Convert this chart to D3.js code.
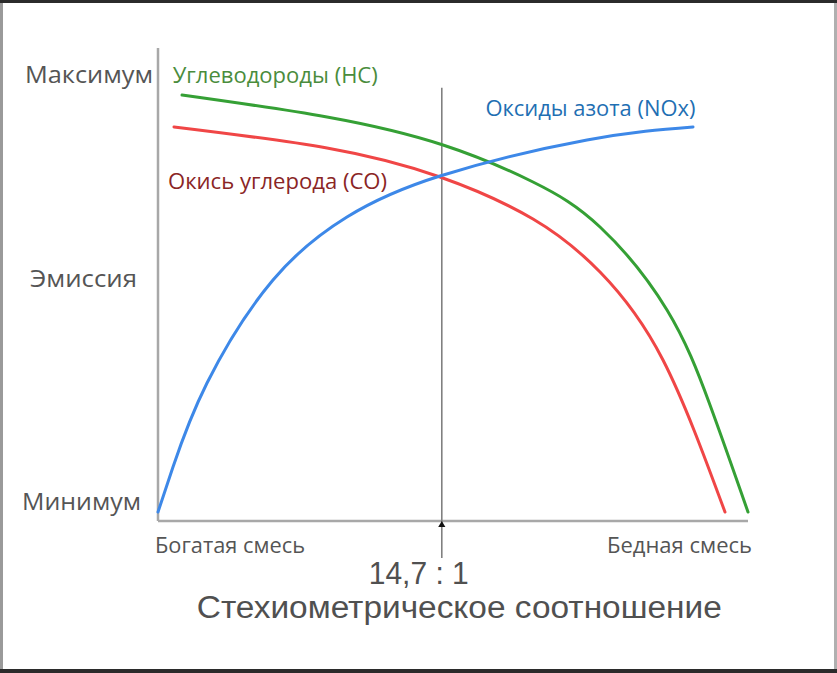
<!DOCTYPE html>
<html>
<head>
<meta charset="utf-8">
<script src="https://cdn.jsdelivr.net/npm/d3@7"></script>
<style>
  html, body { margin: 0; padding: 0; background: #222; }
  svg { display: block; font-family: "Open Sans", "Noto Sans", sans-serif; }
</style>
</head>
<body>
<svg id="chart"></svg>
<script>
// mixture axis: 0 = rich, 100 = lean; emission: 0 = min, 100 = max
const hcX  = [4.07, 28.64, 48.31, 63.56, 74.92, 86.27, 93.56, 100];
const hcY  = [95.09, 90.18, 83.93, 75.67, 65.63, 47.10, 25.89, 2.01];
const coX  = [2.71, 28.64, 47.80, 63.56, 74.92, 85.59, 96.10];
const coY  = [87.95, 83.26, 76.79, 67.41, 55.58, 35.94, 2.01];
const noxX = [0, 2.54, 8.31, 19.49, 32.03, 47.80, 72.71, 90.68];
const noxY = [2.01, 12.05, 30.80, 53.79, 67.86, 77.01, 85.04, 87.95];

const yTickValues = [4.3, 53.9, 99.6];
const yTickLabels = ["Минимум", "Эмиссия", "Максимум"];
const xEndLabels = ["Богатая смесь", "Бедная смесь"];
const stoichX = 48.1;
const stoichLabel = "14,7 : 1";
const stoichTitle = "Стехиометрическое соотношение";
const seriesNames = ["Углеводороды (HC)", "Окись углерода (CO)", "Оксиды азота (NOx)"];

const W = 837, H = 673;
const margin = {top: 73, right: 89, bottom: 152, left: 158};
const width = W - margin.left - margin.right;
const height = H - margin.top - margin.bottom;

const svg = d3.select("#chart").attr("width", W).attr("height", H);

// photo frame
svg.append("rect").attr("width", W).attr("height", H).attr("fill", "#2b2b2b");
svg.append("rect").attr("x", 0).attr("y", 3).attr("width", 3).attr("height", H - 7).attr("fill", "#9a9a9a");
svg.append("rect").attr("x", W - 3).attr("y", 3).attr("width", 3).attr("height", H - 7).attr("fill", "#b0b0b0");
svg.append("rect").attr("x", 3).attr("y", 3).attr("width", W - 6).attr("height", H - 7).attr("fill", "#fff");

const g = svg.append("g").attr("transform", `translate(${margin.left},${margin.top})`);

const x = d3.scaleLinear().domain([0, 100]).range([0, width]);
const y = d3.scaleLinear().domain([0, 100]).range([height, 0]);

// axis lines
g.append("line")
  .attr("x1", x(0)).attr("x2", x(0))
  .attr("y1", y(0)).attr("y2", y(105.6))
  .attr("stroke", "#a8a8a8").attr("stroke-width", 2.5);
g.append("line")
  .attr("x1", x(0)).attr("x2", x(100))
  .attr("y1", y(0)).attr("y2", y(0))
  .attr("stroke", "#a8a8a8").attr("stroke-width", 2.5);

// y labels (left edges and widths as in the picture)
const yLabelLeft = [-136, -128, -133];
const yLabelLen = [119, 107, 128];
const yAxis = d3.axisLeft(y)
  .tickValues(yTickValues)
  .tickFormat((d, i) => yTickLabels[i])
  .tickSize(0);
const yg = g.append("g").call(yAxis);
yg.select(".domain").remove();
yg.selectAll("text")
  .attr("x", (d, i) => yLabelLeft[i])
  .attr("text-anchor", "start")
  .attr("textLength", (d, i) => yLabelLen[i])
  .attr("lengthAdjust", "spacingAndGlyphs")
  .attr("fill", "#555")
  .style("font-size", "23px")
  .style("font-family", "\"Open Sans\", sans-serif");

// stoichiometric line
g.append("line")
  .attr("x1", x(stoichX)).attr("x2", x(stoichX))
  .attr("y1", y(96.7)).attr("y2", y(0) + 37)
  .attr("stroke", "#808080").attr("stroke-width", 1.6);
g.append("path")
  .attr("d", d3.symbol().type(d3.symbolTriangle).size(22))
  .attr("transform", `translate(${x(stoichX)},${y(0) + 4})`)
  .attr("fill", "#111");

// curves
const line = d3.line()
  .x(d => x(d[0]))
  .y(d => y(d[1]))
  .curve(d3.curveNatural);

const series = [
  {xs: hcX, ys: hcY, color: "#35a035"},
  {xs: coX, ys: coY, color: "#f04646"},
  {xs: noxX, ys: noxY, color: "#3d88e8"}
];
series.forEach(s => {
  g.append("path")
    .datum(s.xs.map((v, i) => [v, s.ys[i]]))
    .attr("d", line)
    .attr("fill", "none")
    .attr("stroke", s.color)
    .attr("stroke-width", 3)
    .attr("stroke-linecap", "round");
});

// series labels
const labelInfo = [
  {text: seriesNames[0], x: 2.5, y: 97.7, color: "#4a8c3c", len: 205},
  {text: seriesNames[1], x: 1.7, y: 74.1, color: "#8a2525", len: 219},
  {text: seriesNames[2], x: 55.5, y: 90.4, color: "#1f6fb3", len: 210}
];
labelInfo.forEach(l => {
  g.append("text")
    .attr("x", x(l.x)).attr("y", y(l.y))
    .attr("fill", l.color)
    .attr("textLength", l.len)
    .attr("lengthAdjust", "spacingAndGlyphs")
    .style("font-size", "21px")
    .text(l.text);
});

// x end labels
g.append("text")
  .attr("x", x(0) - 3).attr("y", y(0) + 32)
  .attr("fill", "#555")
  .attr("textLength", 150).attr("lengthAdjust", "spacingAndGlyphs")
  .style("font-size", "21px")
  .text(xEndLabels[0]);
g.append("text")
  .attr("x", x(100) - 141).attr("y", y(0) + 32)
  .attr("fill", "#555")
  .attr("textLength", 145).attr("lengthAdjust", "spacingAndGlyphs")
  .style("font-size", "21px")
  .text(xEndLabels[1]);

// stoichiometric labels
g.append("text")
  .attr("x", x(stoichX) - 73).attr("y", y(0) + 63)
  .attr("fill", "#505050")
  .attr("textLength", 100).attr("lengthAdjust", "spacingAndGlyphs")
  .style("font-size", "31px")
  .style("font-family", "\"Liberation Sans\", Arial, sans-serif")
  .text(stoichLabel);
g.append("text")
  .attr("x", x(stoichX) - 245).attr("y", y(0) + 97)
  .attr("fill", "#505050")
  .attr("textLength", 525).attr("lengthAdjust", "spacingAndGlyphs")
  .style("font-size", "31px")
  .style("font-family", "\"Liberation Sans\", Arial, sans-serif")
  .text(stoichTitle);
</script>
</body>
</html>
